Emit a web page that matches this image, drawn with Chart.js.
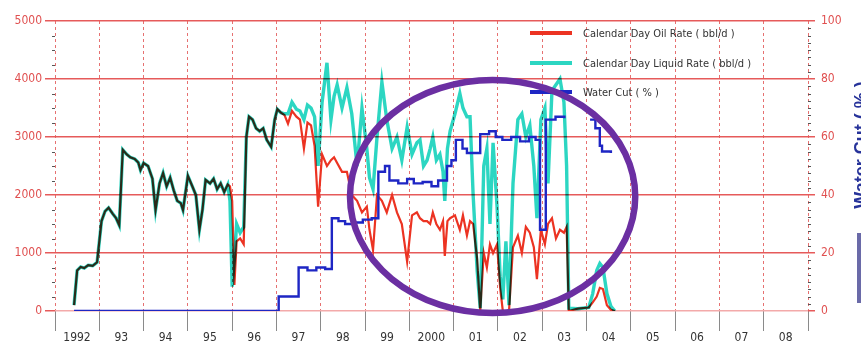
<!DOCTYPE html>
<html><head><meta charset="utf-8">
<script src="https://cdn.jsdelivr.net/npm/chart.js@4.4.0/dist/chart.umd.min.js"></script>
<style>html,body{margin:0;padding:0;background:#fff;overflow:hidden}canvas{display:block}</style>
</head><body>
<canvas id="c" width="861" height="355"></canvas>
<script>
const yearLabels = ['1992','93','94','95','96','97','98','99','2000','01','02','03','04','05','06','07','08'];
const seriesNames = ['Calendar Day Oil Rate ( bbl/d )','Calendar Day Liquid Rate ( bbl/d )','Water Cut ( % )'];
const rightTitle = 'Water Cut ( % )';

const rateT = [1992.43,1992.50,1992.58,1992.66,1992.75,1992.85,1992.95,1993.05,1993.13,1993.21,1993.30,1993.38,1993.45,1993.53,1993.62,1993.70,1993.80,1993.88,1993.93,1994.00,1994.10,1994.20,1994.27,1994.36,1994.44,1994.52,1994.60,1994.68,1994.76,1994.84,1994.89,1995.00,1995.10,1995.18,1995.26,1995.33,1995.40,1995.50,1995.58,1995.66,1995.74,1995.82,1995.90,1995.95,1996.00,1996.05,1996.10,1996.18,1996.26,1996.32,1996.38,1996.46,1996.54,1996.62,1996.70,1996.78,1996.88,1996.96,1997.02,1997.10,1997.18,1997.26,1997.35,1997.45,1997.53,1997.62,1997.70,1997.78,1997.86,1997.94,1998.03,1998.14,1998.23,1998.30,1998.37,1998.48,1998.59,1998.70,1998.82,1998.93,1999.04,1999.10,1999.18,1999.27,1999.38,1999.49,1999.61,1999.72,1999.83,1999.95,2000.06,2000.17,2000.24,2000.32,2000.40,2000.47,2000.53,2000.61,2000.69,2000.76,2000.80,2000.86,2000.92,2001.03,2001.14,2001.21,2001.30,2001.37,2001.44,2001.53,2001.60,2001.68,2001.75,2001.82,2001.89,2001.98,2002.05,2002.11,2002.18,2002.25,2002.34,2002.45,2002.54,2002.63,2002.72,2002.81,2002.88,2002.97,2003.06,2003.13,2003.22,2003.31,2003.40,2003.49,2003.55,2003.60,2003.80,2004.05,2004.14,2004.23,2004.30,2004.37,2004.46,2004.55,2004.64];
const oilV = [100,700,760,740,790,780,840,1550,1720,1780,1680,1600,1480,2780,2700,2650,2620,2560,2430,2550,2500,2280,1740,2200,2380,2150,2300,2080,1900,1860,1740,2330,2150,2000,1400,1750,2260,2200,2280,2100,2200,2050,2180,2150,1900,450,1200,1250,1150,3000,3350,3300,3150,3100,3150,2950,2830,3300,3480,3420,3380,3230,3450,3350,3300,2800,3250,3200,2850,1800,2700,2500,2600,2650,2550,2400,2400,2000,1900,1700,1800,1400,1050,2000,1900,1700,2000,1700,1500,850,1650,1700,1600,1550,1550,1500,1700,1500,1400,1550,950,1550,1600,1650,1400,1650,1300,1550,1500,900,0,1000,750,1150,1000,1150,400,0,0,0,1100,1300,1000,1450,1350,1100,550,1400,1150,1500,1600,1250,1400,1350,1450,0,40,60,150,250,400,380,100,20,0];
const liqV = [100,700,760,740,790,780,840,1550,1720,1780,1680,1600,1480,2780,2700,2650,2620,2560,2430,2550,2500,2280,1740,2200,2380,2150,2300,2080,1900,1860,1740,2330,2150,2000,1400,1750,2260,2200,2280,2100,2200,2050,2180,1900,420,900,1500,1350,1450,3000,3350,3300,3150,3100,3150,2950,2830,3300,3480,3420,3400,3400,3600,3480,3450,3300,3550,3500,3350,2500,3600,4280,3300,3700,3900,3500,3850,3400,2500,3500,2800,2300,2100,3000,3950,3300,2800,3000,2600,3170,2700,2900,2950,2500,2600,2800,3000,2600,2700,2400,1900,2800,3100,3400,3750,3500,3350,3350,2000,700,50,2500,2800,1500,2900,1800,600,200,1200,100,2200,3300,3400,3000,3200,2500,1600,3300,3500,2200,3800,3900,4000,3600,2500,50,40,60,300,700,820,750,300,80,0];

const wcT = [1992.43,1997.05,1997.50,1997.70,1997.90,1998.10,1998.25,1998.40,1998.55,1998.75,1998.95,1999.15,1999.30,1999.45,1999.55,1999.75,1999.95,2000.10,2000.30,2000.50,2000.65,2000.85,2000.95,2001.05,2001.20,2001.30,2001.60,2001.80,2001.95,2002.10,2002.30,2002.50,2002.70,2002.85,2002.95,2003.08,2003.30,2003.50,2003.60,2004.08,2004.20,2004.30,2004.35,2004.55];
const wcV = [0,5,15,14,15,14.5,32,31,30,30.5,31.5,32,48,50,45,44,45.5,44,44.5,43,45,50,52,59,56,54.5,61,62,60,59,60,58.5,60,59,28,66,67,66.5,null,66,63,57,55,54.5];

// annotation ellipse, in data units (years / bbl/d)
const highlight = {cx: 2001.88, cy: 1974, rx: 3.22, ry: 2009};

const colOil = '#ec3322', colLiq = '#2cd6c2', colWc = '#1e26c4';
const FONT = "'Liberation Sans Narrow','Arial Narrow','DejaVu Sans Condensed','Liberation Sans',sans-serif";
Chart.defaults.font.family = FONT;

const pts = (T, V) => T.map((t, i) => ({x: t, y: V[i]}));

const bgPlugin = {id:'bg', beforeDraw(c){const x=c.ctx; x.save(); x.fillStyle='#fff'; x.fillRect(0,0,c.width,c.height); x.restore();}};
const multiplyPlugin = {id:'mul',
  beforeDatasetDraw(c,a){ if(a.index===1){ c.ctx.save(); c.ctx.globalCompositeOperation='multiply'; } },
  afterDatasetDraw(c,a){ if(a.index===1){ c.ctx.restore(); } }};
const minorPlugin = {id:'minor', beforeDatasetsDraw(c){
  const ctx=c.ctx, y=c.scales.y, y1=c.scales.y1, a=c.chartArea;
  ctx.save(); ctx.strokeStyle='#555'; ctx.lineWidth=1;
  for(let v=250; v<5000; v+=250){ if(v%1000===0) continue; const p=Math.round(y.getPixelForValue(v))+0.5; ctx.beginPath(); ctx.moveTo(a.left-3,p); ctx.lineTo(a.left,p); ctx.stroke(); }
  for(let v=2.5; v<100; v+=2.5){ if(v%20===0) continue; const p=Math.round(y1.getPixelForValue(v))+0.5; ctx.beginPath(); ctx.moveTo(a.right,p); ctx.lineTo(a.right+3,p); ctx.stroke(); }
  ctx.restore(); }};
const legendPlugin = {id:'lg', afterDatasetsDraw(c){
  const ctx=c.ctx; const cols=[colOil,colLiq,colWc]; const ys=[33,63,92];
  ctx.save(); ctx.font="11px "+FONT; ctx.fillStyle='#333'; ctx.textBaseline='middle';
  seriesNames.forEach((n,i)=>{ ctx.strokeStyle=cols[i]; ctx.lineWidth=4; ctx.beginPath(); ctx.moveTo(530,ys[i]); ctx.lineTo(572,ys[i]); ctx.stroke(); ctx.fillText(n,583,ys[i]+1); });
  ctx.restore(); }};
const ellipsePlugin = {id:'ell', afterDatasetsDraw(c){
  const ctx=c.ctx, xs=c.scales.x, ys=c.scales.y;
  const cx=xs.getPixelForValue(highlight.cx), cy=ys.getPixelForValue(highlight.cy);
  const rx=xs.getPixelForValue(highlight.cx+highlight.rx)-cx, ry=cy-ys.getPixelForValue(highlight.cy+highlight.ry);
  ctx.save(); ctx.beginPath(); ctx.ellipse(cx,cy,rx,ry,0,0,Math.PI*2); ctx.strokeStyle='#6b2fa2'; ctx.lineWidth=6.5; ctx.stroke(); ctx.restore(); }};
const titlePlugin = {id:'rt', afterDraw(c){
  const ctx=c.ctx; ctx.save();
  ctx.fillStyle='#6a6aa8'; ctx.fillRect(857,233,6,70);
  ctx.translate(862,145); ctx.rotate(-Math.PI/2); ctx.font="bold 18px 'Liberation Sans',Arial,sans-serif"; ctx.fillStyle='#27339a'; ctx.textAlign='center'; ctx.textBaseline='middle'; ctx.fillText(rightTitle,0,0);
  ctx.restore(); }};

new Chart(document.getElementById('c'), {
  type: 'line',
  data: { datasets: [
    {label: seriesNames[0], data: pts(rateT, oilV), borderColor: colOil, borderWidth: 2.2, pointRadius: 0, yAxisID: 'y', order: 3, tension: 0},
    {label: seriesNames[1], data: pts(rateT, liqV), borderColor: colLiq, borderWidth: 3.4, pointRadius: 0, yAxisID: 'y', order: 2, tension: 0},
    {label: seriesNames[2], data: pts(wcT, wcV), borderColor: colWc, borderWidth: 2.4, pointRadius: 0, yAxisID: 'y1', order: 1, stepped: true, spanGaps: false}
  ]},
  options: {
    responsive: false, animation: false, devicePixelRatio: 1,
    layout: {padding: {top: 21, left: 0, right: 0, bottom: 0}},
    plugins: {legend: {display: false}, tooltip: {enabled: false}},
    scales: {
      x: {type: 'linear', min: 1992, max: 2009,
        afterBuildTicks: s => { s.ticks = yearLabels.concat(['']).map((_, i) => ({value: 1992 + i})); },
        ticks: {stepSize: 1, maxTicksLimit: 30, autoSkip: false, maxRotation: 0, minRotation: 0, labelOffset: 22, padding: 0, color: '#333', font: {size: 12},
          callback: v => yearLabels[Math.round(v) - 1992] ?? ''},
        grid: {color: 'rgba(226,88,88,0.85)', lineWidth: 1, tickLength: 20, tickColor: '#8a8a8a', tickBorderDash: [], tickWidth: 1},
        border: {display: false, dash: [3, 3]},
        afterFit: s => { s.height = 44; }},
      y: {position: 'left', min: 0, max: 5000,
        ticks: {stepSize: 1000, color: '#e05050', padding: 3, font: {size: 12}, callback: v => String(v)},
        grid: {color: c => c.tick && c.tick.value === 0 ? '#f3aaaa' : '#e65a5a', lineWidth: 1.5, tickLength: 10, tickColor: '#e65a5a'},
        border: {display: false},
        afterFit: s => { s.width = 55; }},
      y1: {position: 'right', min: 0, max: 100,
        ticks: {stepSize: 20, color: '#e05050', padding: 6, font: {size: 12}, callback: v => String(v)},
        grid: {drawOnChartArea: false, tickLength: 7, tickColor: '#e65a5a', lineWidth: 1.5},
        border: {display: false},
        afterFit: s => { s.width = 53; }}
    }
  },
  plugins: [bgPlugin, multiplyPlugin, minorPlugin, legendPlugin, ellipsePlugin, titlePlugin]
});
</script>
</body></html>
